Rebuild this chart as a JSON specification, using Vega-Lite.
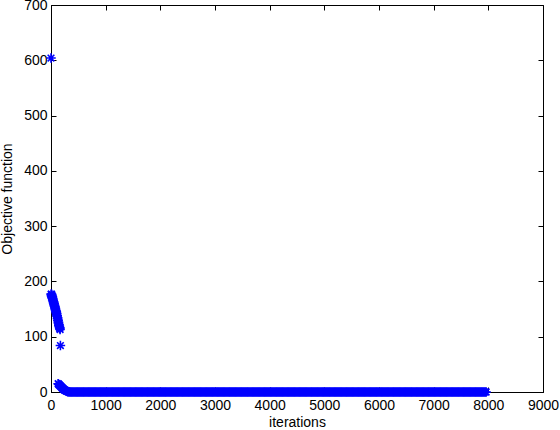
{
  "$schema": "https://vega.github.io/schema/vega-lite/v6.json",
  "autosize": {"type": "none"},
  "width": 492,
  "height": 387,
  "padding": {"left": 51, "top": 5, "right": 17, "bottom": 38},
  "background": "white",
  "config": {
    "view": {"stroke": "black", "strokeWidth": 1},
    "axis": {
      "grid": false,
      "domainColor": "black",
      "tickColor": "black",
      "tickSize": -5,
      "labelColor": "black",
      "labelFont": "Liberation Sans",
      "labelFontSize": 14,
      "titleFont": "Liberation Sans",
      "titleFontSize": 14,
      "titleFontWeight": "normal",
      "titleColor": "black",
      "labelFlush": false,
      "labelOverlap": false
    }
  },
  "data": {
    "values": [
      {"i": 0, "v": 604},
      {"i":2,"v":177},{"i":6,"v":174},{"i":10,"v":177},{"i":14,"v":172},{"i":18,"v":175},{"i":22,"v":170},{"i":26,"v":172},{"i":30,"v":167},{"i":34,"v":169},{"i":38,"v":164},
      {"i":42,"v":166},{"i":46,"v":161},{"i":50,"v":163},{"i":54,"v":158},{"i":58,"v":160},{"i":62,"v":155},{"i":66,"v":157},{"i":70,"v":152},{"i":74,"v":154},{"i":78,"v":149},
      {"i":82,"v":151},{"i":86,"v":146},{"i":90,"v":148},{"i":94,"v":143},{"i":98,"v":145},{"i":102,"v":140},{"i":106,"v":142},{"i":110,"v":137},{"i":114,"v":138},{"i":118,"v":133},
      {"i":122,"v":134},{"i":126,"v":129},{"i":130,"v":130},{"i":134,"v":125},{"i":138,"v":126},{"i":142,"v":121},{"i":146,"v":122},{"i":150,"v":118},{"i":154,"v":119},{"i":158,"v":115},
      {"i":162,"v":116},{"i":166,"v":113},{"i":172,"v":84},
      {"i":130,"v":15},{"i":140,"v":14},{"i":150,"v":13},{"i":160,"v":12},{"i":170,"v":11},{"i":180,"v":10},{"i":190,"v":9},{"i":200,"v":8},{"i":210,"v":7},{"i":220,"v":6},
      {"i":230,"v":5},{"i":240,"v":4},{"i":250,"v":3.5},{"i":260,"v":3},{"i":270,"v":2.5},{"i":280,"v":2},{"i":290,"v":1.5},{"i":300,"v":1},{"i":310,"v":0.6},{"i":320,"v":0.3},
      {"i":340,"v":0},{"i":360,"v":0},{"i":380,"v":0},{"i":400,"v":0},{"i":420,"v":0},{"i":440,"v":0},{"i":460,"v":0},{"i":480,"v":0},{"i":500,"v":0},{"i":520,"v":0},
      {"i":540,"v":0},{"i":560,"v":0},{"i":580,"v":0},{"i":600,"v":0},{"i":620,"v":0},{"i":640,"v":0},{"i":660,"v":0},{"i":680,"v":0},{"i":700,"v":0},{"i":720,"v":0},
      {"i":740,"v":0},{"i":760,"v":0},{"i":780,"v":0},{"i":800,"v":0},{"i":820,"v":0},{"i":840,"v":0},{"i":860,"v":0},{"i":880,"v":0},{"i":900,"v":0},{"i":920,"v":0},
      {"i":940,"v":0},{"i":960,"v":0},{"i":980,"v":0},{"i":1000,"v":0},{"i":1020,"v":0},{"i":1040,"v":0},{"i":1060,"v":0},{"i":1080,"v":0},{"i":1100,"v":0},{"i":1120,"v":0},
      {"i":1140,"v":0},{"i":1160,"v":0},{"i":1180,"v":0},{"i":1200,"v":0},{"i":1220,"v":0},{"i":1240,"v":0},{"i":1260,"v":0},{"i":1280,"v":0},{"i":1300,"v":0},{"i":1320,"v":0},
      {"i":1340,"v":0},{"i":1360,"v":0},{"i":1380,"v":0},{"i":1400,"v":0},{"i":1420,"v":0},{"i":1440,"v":0},{"i":1460,"v":0},{"i":1480,"v":0},{"i":1500,"v":0},{"i":1520,"v":0},
      {"i":1540,"v":0},{"i":1560,"v":0},{"i":1580,"v":0},{"i":1600,"v":0},{"i":1620,"v":0},{"i":1640,"v":0},{"i":1660,"v":0},{"i":1680,"v":0},{"i":1700,"v":0},{"i":1720,"v":0},
      {"i":1740,"v":0},{"i":1760,"v":0},{"i":1780,"v":0},{"i":1800,"v":0},{"i":1820,"v":0},{"i":1840,"v":0},{"i":1860,"v":0},{"i":1880,"v":0},{"i":1900,"v":0},{"i":1920,"v":0},
      {"i":1940,"v":0},{"i":1960,"v":0},{"i":1980,"v":0},{"i":2000,"v":0},{"i":2020,"v":0},{"i":2040,"v":0},{"i":2060,"v":0},{"i":2080,"v":0},{"i":2100,"v":0},{"i":2120,"v":0},
      {"i":2140,"v":0},{"i":2160,"v":0},{"i":2180,"v":0},{"i":2200,"v":0},{"i":2220,"v":0},{"i":2240,"v":0},{"i":2260,"v":0},{"i":2280,"v":0},{"i":2300,"v":0},{"i":2320,"v":0},
      {"i":2340,"v":0},{"i":2360,"v":0},{"i":2380,"v":0},{"i":2400,"v":0},{"i":2420,"v":0},{"i":2440,"v":0},{"i":2460,"v":0},{"i":2480,"v":0},{"i":2500,"v":0},{"i":2520,"v":0},
      {"i":2540,"v":0},{"i":2560,"v":0},{"i":2580,"v":0},{"i":2600,"v":0},{"i":2620,"v":0},{"i":2640,"v":0},{"i":2660,"v":0},{"i":2680,"v":0},{"i":2700,"v":0},{"i":2720,"v":0},
      {"i":2740,"v":0},{"i":2760,"v":0},{"i":2780,"v":0},{"i":2800,"v":0},{"i":2820,"v":0},{"i":2840,"v":0},{"i":2860,"v":0},{"i":2880,"v":0},{"i":2900,"v":0},{"i":2920,"v":0},
      {"i":2940,"v":0},{"i":2960,"v":0},{"i":2980,"v":0},{"i":3000,"v":0},{"i":3020,"v":0},{"i":3040,"v":0},{"i":3060,"v":0},{"i":3080,"v":0},{"i":3100,"v":0},{"i":3120,"v":0},
      {"i":3140,"v":0},{"i":3160,"v":0},{"i":3180,"v":0},{"i":3200,"v":0},{"i":3220,"v":0},{"i":3240,"v":0},{"i":3260,"v":0},{"i":3280,"v":0},{"i":3300,"v":0},{"i":3320,"v":0},
      {"i":3340,"v":0},{"i":3360,"v":0},{"i":3380,"v":0},{"i":3400,"v":0},{"i":3420,"v":0},{"i":3440,"v":0},{"i":3460,"v":0},{"i":3480,"v":0},{"i":3500,"v":0},{"i":3520,"v":0},
      {"i":3540,"v":0},{"i":3560,"v":0},{"i":3580,"v":0},{"i":3600,"v":0},{"i":3620,"v":0},{"i":3640,"v":0},{"i":3660,"v":0},{"i":3680,"v":0},{"i":3700,"v":0},{"i":3720,"v":0},
      {"i":3740,"v":0},{"i":3760,"v":0},{"i":3780,"v":0},{"i":3800,"v":0},{"i":3820,"v":0},{"i":3840,"v":0},{"i":3860,"v":0},{"i":3880,"v":0},{"i":3900,"v":0},{"i":3920,"v":0},
      {"i":3940,"v":0},{"i":3960,"v":0},{"i":3980,"v":0},{"i":4000,"v":0},{"i":4020,"v":0},{"i":4040,"v":0},{"i":4060,"v":0},{"i":4080,"v":0},{"i":4100,"v":0},{"i":4120,"v":0},
      {"i":4140,"v":0},{"i":4160,"v":0},{"i":4180,"v":0},{"i":4200,"v":0},{"i":4220,"v":0},{"i":4240,"v":0},{"i":4260,"v":0},{"i":4280,"v":0},{"i":4300,"v":0},{"i":4320,"v":0},
      {"i":4340,"v":0},{"i":4360,"v":0},{"i":4380,"v":0},{"i":4400,"v":0},{"i":4420,"v":0},{"i":4440,"v":0},{"i":4460,"v":0},{"i":4480,"v":0},{"i":4500,"v":0},{"i":4520,"v":0},
      {"i":4540,"v":0},{"i":4560,"v":0},{"i":4580,"v":0},{"i":4600,"v":0},{"i":4620,"v":0},{"i":4640,"v":0},{"i":4660,"v":0},{"i":4680,"v":0},{"i":4700,"v":0},{"i":4720,"v":0},
      {"i":4740,"v":0},{"i":4760,"v":0},{"i":4780,"v":0},{"i":4800,"v":0},{"i":4820,"v":0},{"i":4840,"v":0},{"i":4860,"v":0},{"i":4880,"v":0},{"i":4900,"v":0},{"i":4920,"v":0},
      {"i":4940,"v":0},{"i":4960,"v":0},{"i":4980,"v":0},{"i":5000,"v":0},{"i":5020,"v":0},{"i":5040,"v":0},{"i":5060,"v":0},{"i":5080,"v":0},{"i":5100,"v":0},{"i":5120,"v":0},
      {"i":5140,"v":0},{"i":5160,"v":0},{"i":5180,"v":0},{"i":5200,"v":0},{"i":5220,"v":0},{"i":5240,"v":0},{"i":5260,"v":0},{"i":5280,"v":0},{"i":5300,"v":0},{"i":5320,"v":0},
      {"i":5340,"v":0},{"i":5360,"v":0},{"i":5380,"v":0},{"i":5400,"v":0},{"i":5420,"v":0},{"i":5440,"v":0},{"i":5460,"v":0},{"i":5480,"v":0},{"i":5500,"v":0},{"i":5520,"v":0},
      {"i":5540,"v":0},{"i":5560,"v":0},{"i":5580,"v":0},{"i":5600,"v":0},{"i":5620,"v":0},{"i":5640,"v":0},{"i":5660,"v":0},{"i":5680,"v":0},{"i":5700,"v":0},{"i":5720,"v":0},
      {"i":5740,"v":0},{"i":5760,"v":0},{"i":5780,"v":0},{"i":5800,"v":0},{"i":5820,"v":0},{"i":5840,"v":0},{"i":5860,"v":0},{"i":5880,"v":0},{"i":5900,"v":0},{"i":5920,"v":0},
      {"i":5940,"v":0},{"i":5960,"v":0},{"i":5980,"v":0},{"i":6000,"v":0},{"i":6020,"v":0},{"i":6040,"v":0},{"i":6060,"v":0},{"i":6080,"v":0},{"i":6100,"v":0},{"i":6120,"v":0},
      {"i":6140,"v":0},{"i":6160,"v":0},{"i":6180,"v":0},{"i":6200,"v":0},{"i":6220,"v":0},{"i":6240,"v":0},{"i":6260,"v":0},{"i":6280,"v":0},{"i":6300,"v":0},{"i":6320,"v":0},
      {"i":6340,"v":0},{"i":6360,"v":0},{"i":6380,"v":0},{"i":6400,"v":0},{"i":6420,"v":0},{"i":6440,"v":0},{"i":6460,"v":0},{"i":6480,"v":0},{"i":6500,"v":0},{"i":6520,"v":0},
      {"i":6540,"v":0},{"i":6560,"v":0},{"i":6580,"v":0},{"i":6600,"v":0},{"i":6620,"v":0},{"i":6640,"v":0},{"i":6660,"v":0},{"i":6680,"v":0},{"i":6700,"v":0},{"i":6720,"v":0},
      {"i":6740,"v":0},{"i":6760,"v":0},{"i":6780,"v":0},{"i":6800,"v":0},{"i":6820,"v":0},{"i":6840,"v":0},{"i":6860,"v":0},{"i":6880,"v":0},{"i":6900,"v":0},{"i":6920,"v":0},
      {"i":6940,"v":0},{"i":6960,"v":0},{"i":6980,"v":0},{"i":7000,"v":0},{"i":7020,"v":0},{"i":7040,"v":0},{"i":7060,"v":0},{"i":7080,"v":0},{"i":7100,"v":0},{"i":7120,"v":0},
      {"i":7140,"v":0},{"i":7160,"v":0},{"i":7180,"v":0},{"i":7200,"v":0},{"i":7220,"v":0},{"i":7240,"v":0},{"i":7260,"v":0},{"i":7280,"v":0},{"i":7300,"v":0},{"i":7320,"v":0},
      {"i":7340,"v":0},{"i":7360,"v":0},{"i":7380,"v":0},{"i":7400,"v":0},{"i":7420,"v":0},{"i":7440,"v":0},{"i":7460,"v":0},{"i":7480,"v":0},{"i":7500,"v":0},{"i":7520,"v":0},
      {"i":7540,"v":0},{"i":7560,"v":0},{"i":7580,"v":0},{"i":7600,"v":0},{"i":7620,"v":0},{"i":7640,"v":0},{"i":7660,"v":0},{"i":7680,"v":0},{"i":7700,"v":0},{"i":7720,"v":0},
      {"i":7740,"v":0},{"i":7760,"v":0},{"i":7780,"v":0},{"i":7800,"v":0},{"i":7820,"v":0},{"i":7840,"v":0},{"i":7860,"v":0},{"i":7880,"v":0},{"i":7900,"v":0},{"i":7920,"v":0},
      {"i":7940,"v":0},{"i":7960,"v":0}
    ]
  },
  "resolve": {"axis": {"x": "independent", "y": "independent"}},
  "layer": [
    {
      "mark": {
        "type": "point",
        "shape": "M-1,0L1,0M0,-1L0,1M-0.7,-0.7L0.7,0.7M-0.7,0.7L0.7,-0.7",
        "filled": false,
        "stroke": "#0000ff",
        "strokeWidth": 1.6,
        "size": 90,
        "opacity": 1
      },
      "encoding": {
        "x": {
          "field": "i", "type": "quantitative",
          "scale": {"domain": [0, 9000], "nice": false, "zero": false},
          "axis": {"values": [0,1000,2000,3000,4000,5000,6000,7000,8000,9000], "title": "iterations", "format": "d", "labelPadding": 11, "titlePadding": 3}
        },
        "y": {
          "field": "v", "type": "quantitative",
          "scale": {"domain": [0, 700], "nice": false},
          "axis": {"values": [0,100,200,300,400,500,600,700], "title": "Objective function", "format": "d", "labelPadding": 9, "titlePadding": 9}
        }
      }
    },
    {
      "mark": {"type": "point", "opacity": 0},
      "encoding": {
        "x": {
          "field": "i", "type": "quantitative",
          "scale": {"domain": [0, 9000], "nice": false, "zero": false},
          "axis": {"orient": "top", "values": [0,1000,2000,3000,4000,5000,6000,7000,8000,9000], "labels": false, "title": null, "domain": false}
        },
        "y": {
          "field": "v", "type": "quantitative",
          "scale": {"domain": [0, 700], "nice": false},
          "axis": {"orient": "right", "values": [0,100,200,300,400,500,600,700], "labels": false, "title": null, "domain": false}
        }
      }
    }
  ]
}
